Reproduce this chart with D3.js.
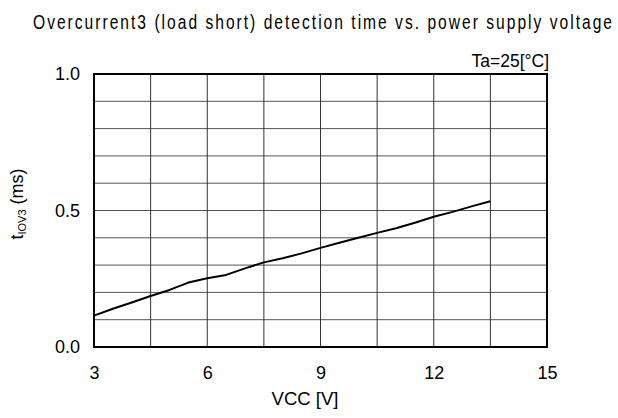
<!DOCTYPE html>
<html>
<head>
<meta charset="utf-8">
<script src="https://cdn.jsdelivr.net/npm/d3@7/dist/d3.min.js"></script>
<style>
  html, body { margin: 0; padding: 0; background: #fff; }
  svg { display: block; font-family: "Liberation Sans", Arial, sans-serif; }
</style>
</head>
<body>
<svg id="chart" width="618" height="418"></svg>
<script>
// Supply voltage VCC [V]
const vcc = [3, 3.5, 4, 4.5, 5, 5.5, 6, 6.5, 7, 7.5, 8, 8.5, 9, 9.5, 10, 10.5, 11, 11.5, 12, 12.5, 13, 13.5];
// Overcurrent3 detection time tIOV3 [ms]
const tIov3 = [0.115, 0.140, 0.163, 0.187, 0.209, 0.236, 0.252, 0.264, 0.288, 0.310, 0.325, 0.343, 0.363, 0.382, 0.400, 0.418, 0.435, 0.455, 0.477, 0.495, 0.515, 0.534];

const xTicks = [3, 6, 9, 12, 15];
const yTicks = [0.0, 0.5, 1.0];
const xGrid = [3, 4.5, 6, 7.5, 9, 10.5, 12, 13.5, 15];
const yGrid = [0, 0.1, 0.2, 0.3, 0.4, 0.5, 0.6, 0.7, 0.8, 0.9, 1.0];

const titleText = "Overcurrent3 (load short) detection time vs. power supply voltage";
const condText = "Ta=25[°C]";
const xTitle = "VCC [V]";

const svg = d3.select("#chart");
const L = 94, R = 547, T = 74, B = 347;

const x = d3.scaleLinear().domain([3, 15]).range([L, R]);
const y = d3.scaleLinear().domain([0, 1]).range([B, T]);

// grid
const g = svg.append("g");
g.selectAll("line.h").data(yGrid).join("line")
  .attr("x1", L).attr("x2", R)
  .attr("y1", d => y(d)).attr("y2", d => y(d))
  .attr("stroke", "#555").attr("stroke-width", 1);
g.selectAll("line.v").data(xGrid).join("line")
  .attr("y1", T).attr("y2", B)
  .attr("x1", d => x(d)).attr("x2", d => x(d))
  .attr("stroke", "#333").attr("stroke-width", 1);

// frame
svg.append("rect")
  .attr("x", L).attr("y", T).attr("width", R - L).attr("height", B - T)
  .attr("fill", "none").attr("stroke", "#000").attr("stroke-width", 2);

// axes labels via d3 axes (tick lines hidden)
const xAxis = d3.axisBottom(x).tickValues(xTicks).tickFormat(d3.format("d")).tickSize(0).tickPadding(19);
const ax = svg.append("g").attr("transform", `translate(0,${B})`).call(xAxis);
const yAxis = d3.axisLeft(y).tickValues(yTicks).tickFormat(d3.format(".1f")).tickSize(0).tickPadding(14);
const ay = svg.append("g").attr("transform", `translate(${L},0)`).call(yAxis);
[ax, ay].forEach(a => {
  a.select(".domain").remove();
  a.selectAll("text").attr("font-size", 18).attr("fill", "#000")
    .attr("font-family", "Liberation Sans, Arial, sans-serif");
});

// data line
const line = d3.line().x((d, i) => x(vcc[i])).y(d => y(d));
svg.append("path").datum(tIov3)
  .attr("d", line)
  .attr("fill", "none").attr("stroke", "#000").attr("stroke-width", 2)
  .attr("stroke-linejoin", "round");

// title: condensed glyphs, widened spacing
const sx = 0.8;
svg.append("text")
  .attr("transform", `scale(${sx},1)`)
  .attr("x", 33 / sx).attr("y", 29)
  .attr("font-size", 19.5)
  .attr("textLength", 579 / sx).attr("lengthAdjust", "spacing")
  .text(titleText);

// condition
svg.append("text")
  .attr("x", 549).attr("y", 67).attr("text-anchor", "end")
  .attr("font-size", 17.5)
  .text(condText);

// x title
svg.append("text")
  .attr("x", 305).attr("y", 405).attr("text-anchor", "middle")
  .attr("font-size", 18.5)
  .text(xTitle);

// y title with subscript
const yt = svg.append("text")
  .attr("transform", "translate(23,204) rotate(-90)")
  .attr("text-anchor", "middle")
  .attr("font-size", 18);
yt.append("tspan").text("t");
yt.append("tspan").attr("font-size", 11).attr("dy", 3).text("IOV3");
yt.append("tspan").attr("dy", -3).text(" (ms)");
</script>
</body>
</html>
